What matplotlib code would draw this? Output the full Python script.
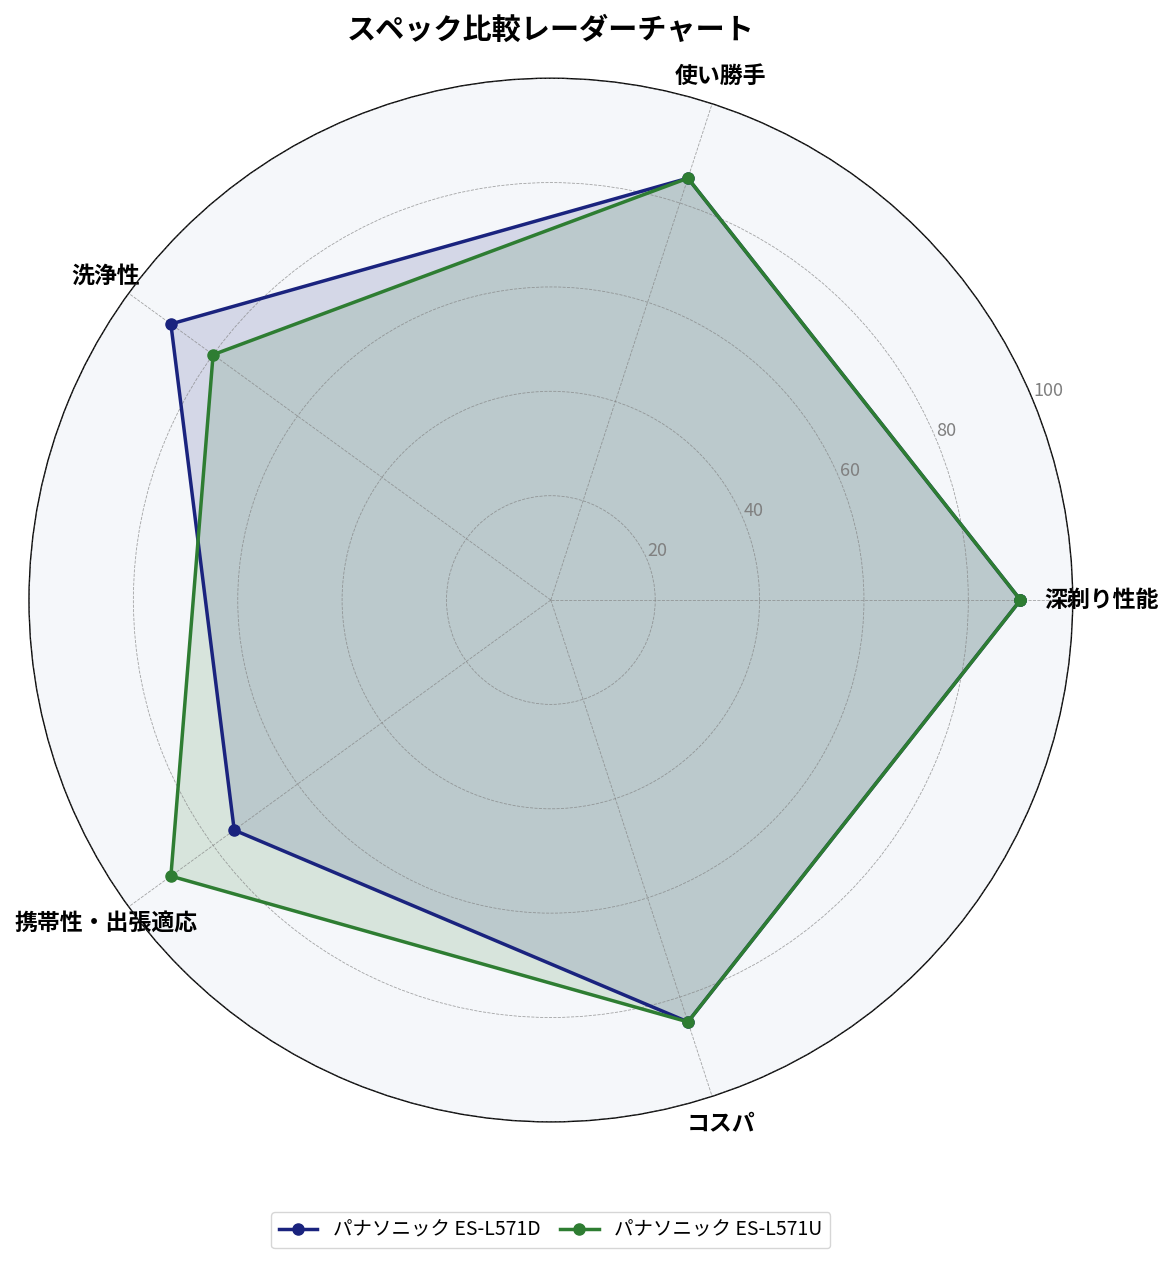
import numpy as np
import matplotlib
matplotlib.use("Agg")
import matplotlib.pyplot as plt

plt.rcParams['font.family'] = ['Noto Sans CJK JP', 'DejaVu Sans']

categories = ["深剃り性能", "使い勝手", "洗浄性", "携帯性・出張適応", "コスパ"]
series_names = ["パナソニック ES-L571D", "パナソニック ES-L571U"]
values_d = [90, 85, 90, 75, 85]
values_u = [90, 85, 80, 90, 85]
colors = ["#1a237e", "#2e7d32"]
rticks = [20, 40, 60, 80, 100]

n = len(categories)
angles = np.linspace(0, 2 * np.pi, n, endpoint=False)
angles_closed = np.concatenate([angles, angles[:1]])

fig = plt.figure(figsize=(11.74, 12.63), dpi=100)
ax = fig.add_axes([0.0247, 0.1116, 0.889, 0.8266], projection='polar')
ax.set_facecolor("#f5f7fa")

for vals, name, c in zip([values_d, values_u], series_names, colors):
    v = np.concatenate([vals, vals[:1]])
    ax.plot(angles_closed, v, color=c, linewidth=2.5, marker='o', markersize=8, label=name, zorder=3)
    ax.fill(angles_closed, v, color=c, alpha=0.15, zorder=2)

ax.set_ylim(0, 100)
ax.set_yticks(rticks)
ax.set_yticklabels([str(t) for t in rticks], color="gray", fontsize=13)
ax.set_rlabel_position(22.5)
ax.set_xticks(angles)
ax.set_xticklabels(categories, fontsize=16.5, fontweight='bold')
ax.tick_params(axis='x', pad=10)
ax.grid(True, color="gray", linestyle='--', linewidth=0.6, alpha=0.7)
ax.set_axisbelow(False)
ax.spines['polar'].set_color('black')
ax.spines['polar'].set_linewidth(1.0)

fig.suptitle("スペック比較レーダーチャート", fontsize=21, fontweight='bold', x=0.469, y=0.988)
fig.legend(loc='center', bbox_to_anchor=(0.469, 0.026), ncol=2, fontsize=14, frameon=True,
           columnspacing=1.0)

fig.savefig("out.png", dpi=100)
